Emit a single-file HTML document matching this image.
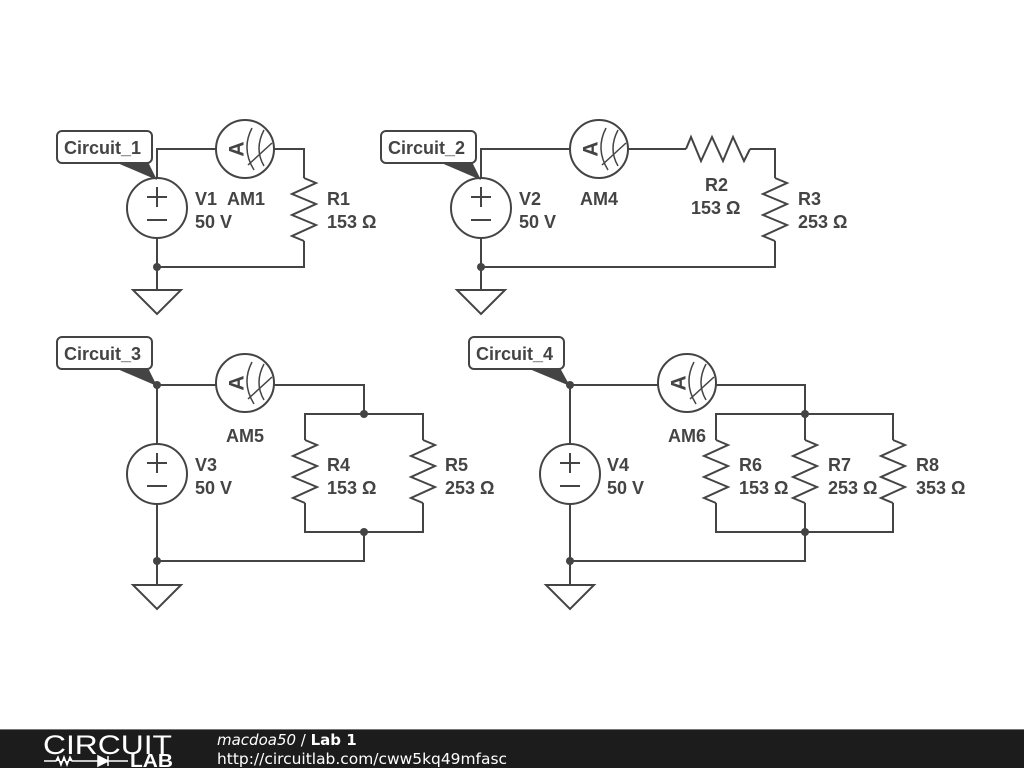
<!DOCTYPE html>
<html><head><meta charset="utf-8"><style>
body{margin:0;width:1024px;height:768px;background:#fff;overflow:hidden;font-family:"Liberation Sans",sans-serif}
svg{position:absolute;left:0;top:0}
</style></head><body>
<svg width="1024" height="768" viewBox="0 0 1024 768">
<defs>
<g id="am">
<circle cx="0" cy="0" r="29" fill="#fff" stroke="#444" stroke-width="2"/>
<text x="0" y="0" transform="translate(-8,0) rotate(-90)" text-anchor="middle" dominant-baseline="central" font-size="21" font-weight="bold" fill="#444" font-family="Liberation Sans">A</text>
<path d="M7,-21 Q-4,0 9,21 M19,-19 Q9,0 19,17 M3,16 L27,-6" fill="none" stroke="#444" stroke-width="1.5"/>
</g>
<g id="vs">
<circle cx="0" cy="0" r="30" fill="#fff" stroke="#444" stroke-width="2"/>
<path d="M-10,-11 H10 M0,-21 V-1 M-10,12 H10" stroke="#444" stroke-width="2"/>
</g>
<g id="rv"><path d="M0,0 L12,5 L-12,16 L12,26 L-12,37 L12,47 L-12,58 L0,63" fill="none" stroke="#444" stroke-width="2"/></g>
<g id="gnd"><path d="M-24,0 H24 L0,24 Z" fill="#fff" stroke="#444" stroke-width="2"/></g>
</defs>
<g fill="none" stroke="#444" stroke-width="2">
<path d="M157,178 V149 H304 V178 M304,241 V267 H157 V238 M157,267 V290"/>
<path d="M481,178 V149 H686 M750,149 H775 V178 M775,241 V267 H481 V238 M481,267 V290"/>
<path d="M686,149 L691,137 L701,161 L712,137 L723,161 L733,137 L744,161 L750,149"/>
<path d="M157,444 V385 H364 V414 M305,440 V414 H423 V440 M305,503 V532 H423 V503 M364,532 V561 H157 V504 M157,561 V585"/>
<path d="M570,444 V385 H805 V414 M716,440 V414 H893 V440 M805,414 V440 M716,503 V532 H893 V503 M805,503 V532 M805,532 V561 H570 V504 M570,561 V585"/>
</g>
<use href="#rv" x="304" y="178"/><use href="#rv" x="775" y="178"/>
<use href="#rv" x="305" y="440"/><use href="#rv" x="423" y="440"/>
<use href="#rv" x="716" y="440"/><use href="#rv" x="805" y="440"/><use href="#rv" x="893" y="440"/>
<use href="#vs" x="157" y="208"/><use href="#vs" x="481" y="208"/><use href="#vs" x="157" y="474"/><use href="#vs" x="570" y="474"/>
<use href="#am" x="245" y="149"/><use href="#am" x="599" y="149"/><use href="#am" x="245" y="383"/><use href="#am" x="687" y="383"/>
<use href="#gnd" x="157" y="290"/><use href="#gnd" x="481" y="290"/><use href="#gnd" x="157" y="585"/><use href="#gnd" x="570" y="585"/>
<g fill="#444">
<circle cx="157" cy="267" r="4"/><circle cx="481" cy="267" r="4"/>
<circle cx="157" cy="385" r="4"/><circle cx="364" cy="414" r="4"/><circle cx="364" cy="532" r="4"/><circle cx="157" cy="561" r="4"/>
<circle cx="570" cy="385" r="4"/><circle cx="805" cy="414" r="4"/><circle cx="805" cy="532" r="4"/><circle cx="570" cy="561" r="4"/>
<path d="M115,162 L148,162 L157,180 Z"/><path d="M439,162 L472,162 L481,180 Z"/>
<path d="M115,368 L148,368 L157,386 Z"/><path d="M527,368 L560,368 L570,386 Z"/>
</g>
<g fill="#fff" stroke="#444" stroke-width="2">
<rect x="57" y="131" width="95" height="32" rx="5"/><rect x="381" y="131" width="95" height="32" rx="5"/>
<rect x="57" y="337" width="95" height="32" rx="5"/><rect x="469" y="337" width="95" height="32" rx="5"/>
</g>
<g font-family="Liberation Sans" font-weight="bold" font-size="18" fill="#444">
<text x="64" y="154">Circuit_1</text><text x="388" y="154">Circuit_2</text>
<text x="64" y="360">Circuit_3</text><text x="476" y="360">Circuit_4</text>
<text x="195" y="205">V1</text><text x="227" y="205">AM1</text><text x="195" y="228">50 V</text>
<text x="327" y="205">R1</text><text x="327" y="228">153 Ω</text>
<text x="519" y="205">V2</text><text x="519" y="228">50 V</text><text x="580" y="205">AM4</text>
<text x="705" y="191">R2</text><text x="691" y="214">153 Ω</text>
<text x="798" y="205">R3</text><text x="798" y="228">253 Ω</text>
<text x="226" y="442">AM5</text><text x="195" y="471">V3</text><text x="195" y="494">50 V</text>
<text x="327" y="471">R4</text><text x="327" y="494">153 Ω</text>
<text x="445" y="471">R5</text><text x="445" y="494">253 Ω</text>
<text x="668" y="442">AM6</text><text x="607" y="471">V4</text><text x="607" y="494">50 V</text>
<text x="739" y="471">R6</text><text x="739" y="494">153 Ω</text>
<text x="828" y="471">R7</text><text x="828" y="494">253 Ω</text>
<text x="916" y="471">R8</text><text x="916" y="494">353 Ω</text>
</g>
<rect x="0" y="729" width="1024" height="39" fill="#1c1c1c"/>
<rect x="0" y="729" width="1024" height="1" fill="#777"/>
<text x="43" y="754" font-family="Liberation Sans" font-size="27" fill="#fff" textLength="129" lengthAdjust="spacingAndGlyphs">CIRCUIT</text>
<path d="M44,761 H56 L58,757 L61,765 L64,757 L67,765 L70,757 L72,761 H98 M98,756 V766 L108,761 Z M108,756 V766 M108,761 H128" stroke="#fff" stroke-width="1.5" fill="#fff"/>
<text x="130" y="767" font-family="Liberation Sans" font-size="18" font-weight="bold" fill="#fff" textLength="43" lengthAdjust="spacingAndGlyphs">LAB</text>
<text x="217" y="745" font-family="DejaVu Sans" font-size="15" fill="#fff"><tspan font-style="italic">macdoa50</tspan> / <tspan font-weight="bold">Lab 1</tspan></text>
<text x="217" y="764" font-family="DejaVu Sans" font-size="15" fill="#fff" textLength="290" lengthAdjust="spacingAndGlyphs">http://circuitlab.com/cww5kq49mfasc</text>
</svg>
</body></html>
